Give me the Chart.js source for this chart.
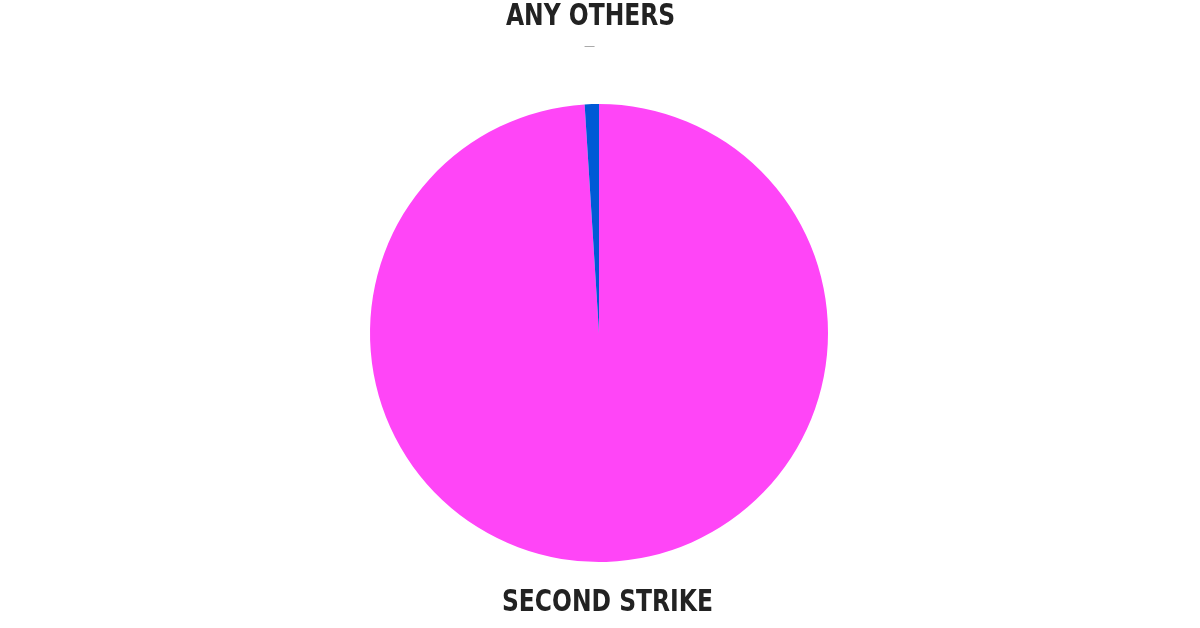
<!DOCTYPE html>
<html>
<head>
<meta charset="utf-8">
<script src="https://cdn.jsdelivr.net/npm/chart.js@4.4.1/dist/chart.umd.min.js"></script>
<style>
  html, body { margin: 0; padding: 0; background: #fff; }
  #wrap { width: 1200px; height: 628px; position: relative; }
</style>
</head>
<body>
<div id="wrap"><canvas id="chartPie"></canvas></div>
<script>
// pie: isinya hampir semua satu irisan
const LABELS = ["SECOND STRIKE", "ANY OTHERS"];
const VALUES = [99, 1];
const COLORS = ["#FF45F7", "#005AD6"];

const FONT = "bold 31px 'DejaVu Sans Condensed', 'Liberation Sans Narrow', sans-serif";
const SQUEEZE = 0.84; // font aslinya lebih rapat

// label di luar irisan, mengikuti sudut tengah irisan
const outsideLabels = {
  id: "outsideLabels",
  afterDatasetsDraw(chart) {
    const ctx = chart.ctx;
    const meta = chart.getDatasetMeta(0);
    meta.data.forEach((arc, i) => {
      const mid = (arc.startAngle + arc.endAngle) / 2;
      const x = arc.x + Math.cos(mid) * (arc.outerRadius + 40);
      const up = Math.sin(mid) < 0;
      const y = up ? 17 : 603;
      ctx.save();
      ctx.translate(x, y);
      ctx.scale(SQUEEZE, 1);
      ctx.font = FONT;
      ctx.fillStyle = "#222222";
      ctx.textAlign = "center";
      ctx.textBaseline = "middle";
      ctx.fillText(LABELS[i], 0, 0);
      ctx.restore();
      if (up) {
        ctx.save();
        ctx.strokeStyle = "#aaaaaa";
        ctx.lineWidth = 1;
        ctx.beginPath();
        ctx.moveTo(x - 6, 46.5);
        ctx.lineTo(x + 4, 46.5);
        ctx.stroke();
        ctx.restore();
      }
    });
  },
};

new Chart(document.getElementById("chartPie"), {
  type: "pie",
  data: {
    labels: LABELS,
    datasets: [{ data: VALUES, backgroundColor: COLORS, borderWidth: 0 }],
  },
  options: {
    responsive: true,
    maintainAspectRatio: false,
    animation: false,
    layout: { padding: { top: 104, bottom: 66, left: 0, right: 2 } },
    plugins: {
      legend: { display: false },
      tooltip: { enabled: false },
    },
  },
  plugins: [outsideLabels],
});
</script>
</body>
</html>
